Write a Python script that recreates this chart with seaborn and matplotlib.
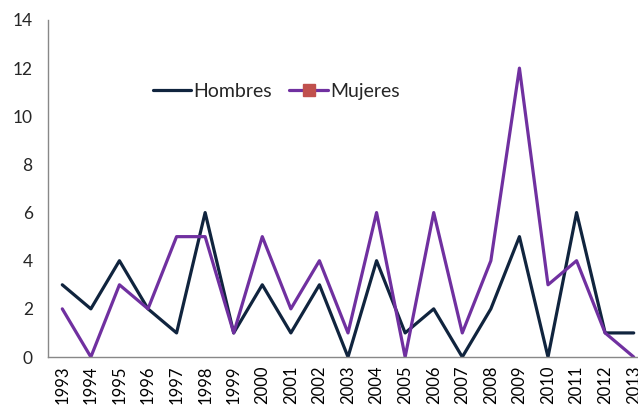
import matplotlib
matplotlib.use("Agg")
import matplotlib.pyplot as plt
from matplotlib.lines import Line2D
import seaborn as sns
import pandas as pd
import numpy as np

years = list(range(1993, 2014))
hombres = [3, 2, 4, 2, 1, 6, 1, 3, 1, 3, 0, 4, 1, 2, 0, 2, 5, 0, 6, 1, 1]
mujeres = [2, 0, 3, 2, 5, 5, 1, 5, 2, 4, 1, 6, 0, 6, 1, 4, 12, 3, 4, 1, 0]
series_names = ["Hombres", "Mujeres"]
colors = {"Hombres": "#10243E", "Mujeres": "#7030A0"}
marker_color = "#C0504D"

df = pd.DataFrame({
    "year": years * 2,
    "value": hombres + mujeres,
    "serie": ["Hombres"] * len(years) + ["Mujeres"] * len(years),
})

sns.set_style("white")
plt.rcParams["font.family"] = ["Lato", "DejaVu Sans"]

fig = plt.figure(figsize=(6.38, 4.07), dpi=100)
ax = fig.add_axes([48 / 638, 50 / 407, 600 / 638, 337 / 407])

sns.lineplot(data=df, x="year", y="value", hue="serie", palette=colors,
             linewidth=2.3, ax=ax, legend=False, hue_order=series_names)

ax.set_xlim(years[0] - 0.5, years[-1] + 0.5)
ax.set_ylim(0, 14)
ax.set_yticks(range(0, 15, 2))
ax.set_xticks(years)
ax.set_xticklabels([str(y) for y in years], rotation=90)
ax.set_xticks(np.arange(years[0] - 0.5, years[-1] + 1.0, 1.0), minor=True)
ax.tick_params(axis="x", which="major", length=0, pad=6, labelsize=12, colors="#000000")
ax.tick_params(axis="x", which="minor", length=5, width=1, color="#888888", direction="out")
ax.tick_params(axis="y", length=5, width=1, color="#888888", direction="out", labelsize=12.5, pad=6)
ax.set_xlabel("")
ax.set_ylabel("")
for s in ["top", "right"]:
    ax.spines[s].set_visible(False)
for s in ["left", "bottom"]:
    ax.spines[s].set_color("#888888")
    ax.spines[s].set_linewidth(1)

handles = [
    Line2D([], [], color=colors["Hombres"], linewidth=2.3),
    Line2D([], [], color=colors["Mujeres"], linewidth=2.3, marker="s",
           markersize=9, markerfacecolor=marker_color, markeredgecolor=marker_color),
]
leg = ax.legend(handles, series_names, loc="upper left", bbox_to_anchor=(0.145, 0.865),
                ncol=2, frameon=False, fontsize=14, handlelength=2.0,
                handletextpad=0.1, columnspacing=0.9)

fig.savefig("out.png", dpi=100)
